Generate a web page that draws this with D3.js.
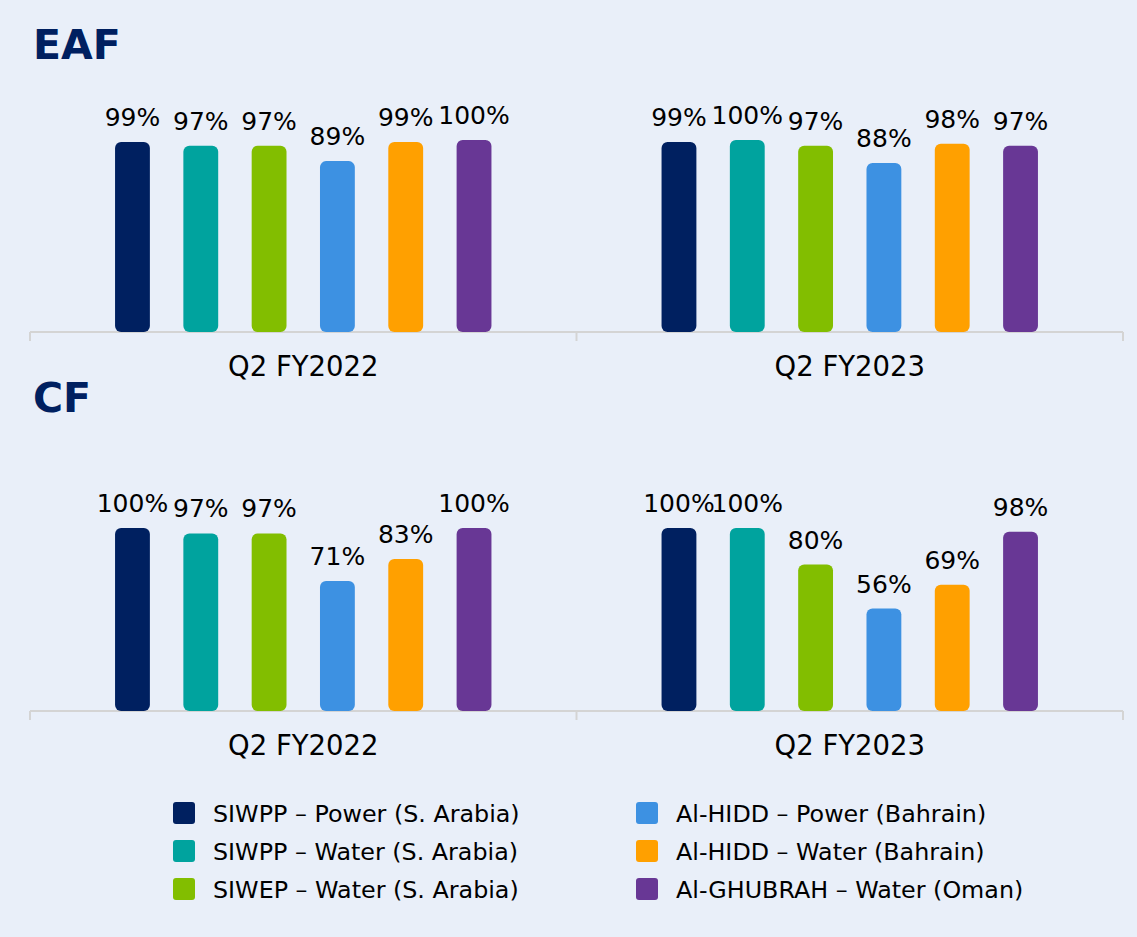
<!DOCTYPE html>
<html>
<head>
<meta charset="utf-8">
<script src="https://cdn.jsdelivr.net/npm/d3@7"></script>
<style>
  html, body { margin: 0; padding: 0; background: #e9eff9; }
  svg { display: block; font-family: "DejaVu Sans", Verdana, sans-serif; }
</style>
</head>
<body>
<div id="chart"></div>
<script>
// periods on the x axis
var periods = ['Q2 FY2022', 'Q2 FY2023'];
// plants (legend order)
var plants = [
  'SIWPP \u2013 Power (S. Arabia)',
  'SIWPP \u2013 Water (S. Arabia)',
  'SIWEP \u2013 Water (S. Arabia)',
  'Al-HIDD \u2013 Power (Bahrain)',
  'Al-HIDD \u2013 Water (Bahrain)',
  'Al-GHUBRAH \u2013 Water (Oman)'
];
var plantColors = ['#002060', '#00a39e', '#82be00', '#3d91e2', '#ffa000', '#683795'];
// EAF, % per plant
var eaf2022 = [99, 97, 97, 89, 99, 100];
var eaf2023 = [99, 100, 97, 88, 98, 97];
// CF, % per plant
var cf2022 = [100, 97, 97, 71, 83, 100];
var cf2023 = [100, 100, 80, 56, 69, 98];

var W = 1137, H = 937;
var svg = d3.select('#chart').append('svg')
  .attr('width', W).attr('height', H);

svg.append('rect').attr('width', W).attr('height', H).attr('fill', '#e9eff9');

function panel(title, titleY, base, top, vals) {
  svg.append('text')
    .attr('x', 33).attr('y', titleY)
    .attr('font-size', 41).attr('font-weight', 'bold')
    .attr('fill', '#002060')
    .text(title);

  var x0 = d3.scaleBand().domain(periods).range([30, 1123]).padding(0);
  var x1 = d3.scaleBand().domain(d3.range(plants.length))
    .range([0, x0.bandwidth()]).paddingInner(0.49).paddingOuter(1.245);
  var y = d3.scaleLinear().domain([0, 100]).range([base, top]);

  var g = svg.append('g').attr('transform', 'translate(0,' + base + ')');
  g.append('line').attr('x1', 30).attr('x2', 1123)
    .attr('stroke', '#d4d4d4').attr('stroke-width', 2);
  // category separators
  g.selectAll('.sep').data([30, x0('Q2 FY2023'), 1123]).enter().append('line')
    .attr('x1', function(d) { return d; }).attr('x2', function(d) { return d; })
    .attr('y1', 0).attr('y2', 9)
    .attr('stroke', '#d4d4d4').attr('stroke-width', 2);
  g.selectAll('.cat').data(periods).enter().append('text')
    .attr('x', function(d) { return x0(d) + x0.bandwidth() / 2; })
    .attr('y', 44)
    .attr('text-anchor', 'middle')
    .attr('font-size', 27.5).attr('fill', '#000')
    .text(function(d) { return d; });

  periods.forEach(function(p, pi) {
    var grp = svg.append('g').attr('transform', 'translate(' + x0(p) + ',0)');
    grp.selectAll('rect').data(vals[pi]).enter().append('rect')
      .attr('x', function(d, i) { return x1(i); })
      .attr('y', function(d) { return y(d); })
      .attr('width', x1.bandwidth())
      .attr('height', function(d) { return base - y(d); })
      .attr('rx', 6)
      .attr('fill', function(d, i) { return plantColors[i]; });
    grp.selectAll('text').data(vals[pi]).enter().append('text')
      .attr('x', function(d, i) { return x1(i) + x1.bandwidth() / 2; })
      .attr('y', function(d) { return y(d) - 16; })
      .attr('text-anchor', 'middle')
      .attr('font-size', 25).attr('fill', '#000')
      .text(function(d) { return d + '%'; });
  });
}

panel('EAF', 59, 332, 140, [eaf2022, eaf2023]);
panel('CF', 412, 711, 528, [cf2022, cf2023]);

// legend, 2 columns x 3 rows
var leg = svg.append('g');
var items = leg.selectAll('g').data(plants).enter().append('g')
  .attr('transform', function(d, i) {
    var col = Math.floor(i / 3), row = i % 3;
    return 'translate(' + (173 + col * 463) + ',' + (813 + row * 38) + ')';
  });
items.append('rect')
  .attr('x', 0).attr('y', -11).attr('width', 22).attr('height', 22).attr('rx', 3)
  .attr('fill', function(d, i) { return plantColors[i]; });
items.append('text')
  .attr('x', 40).attr('y', 0).attr('dy', '0.36em')
  .attr('font-size', 23.8).attr('fill', '#000')
  .text(function(d) { return d; });
</script>
</body>
</html>
